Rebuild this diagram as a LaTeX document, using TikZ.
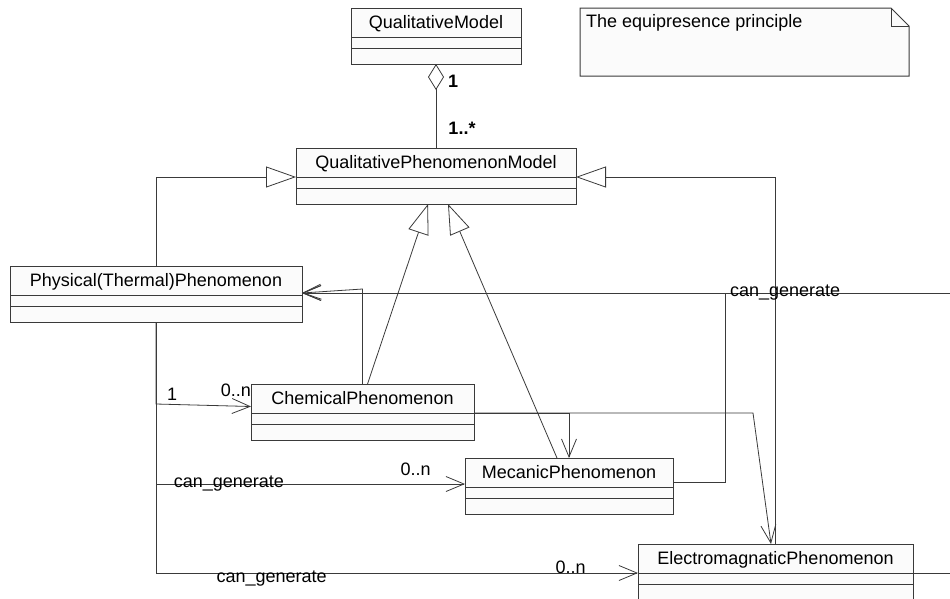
\documentclass[tikz,border=0pt]{standalone}
\usepackage{fontspec}
\setmainfont{Liberation Sans}
\usetikzlibrary{positioning,arrows.meta}
\definecolor{boxfill}{HTML}{FBFBFB}
\definecolor{linec}{HTML}{3A3A3A}
\tikzset{
	cls/.style={draw=linec, fill=boxfill, line width=1pt, inner sep=0pt, outer sep=0pt, minimum width=#1, minimum height=29pt, text height=12.5pt, text depth=0pt, font=\fontsize{18}{21}\selectfont},
	attr/.style={draw=linec, fill=boxfill, line width=1pt, inner sep=0pt, outer sep=0pt, minimum width=#1, minimum height=11pt},
	oper/.style={attr=#1, minimum height=16pt},
	lbl/.style={inner sep=0pt, font=\fontsize{18}{21}\selectfont},
	assoc/.style={draw=linec, line width=0.8pt, -{Straight Barb[length=18pt,width=15pt]}},
	gen/.style={draw=linec, line width=0.8pt, -{Triangle[length=30pt,width=21pt,fill=white]}},
	aggr/.style={draw=linec, line width=0.8pt, {Diamond[length=26pt,width=16pt,fill=white]}-},
}
\begin{document}
\begin{tikzpicture}[x=1pt, y=-1pt]
	\useasboundingbox (0,0) rectangle (950,598);
	\clip (0,0) rectangle (950,598);

	\node (qm) [cls=170pt, anchor=north west] at (351,8) {QualitativeModel};
	\node (qma) [attr=170pt, below=0pt of qm] {};
	\node (qmo) [oper=170pt, below=0pt of qma] {};

	\node (qpm) [cls=280pt, anchor=north west] at (296,148) {QualitativePhenomenonModel};
	\node (qpma) [attr=280pt, below=0pt of qpm] {};
	\node (qpmo) [oper=280pt, below=0pt of qpma] {};

	\node (phys) [cls=292pt, anchor=north west] at (10,266) {Physical(Thermal)Phenomenon};
	\node (physa) [attr=292pt, below=0pt of phys] {};
	\node (physo) [oper=292pt, below=0pt of physa] {};

	\node (chem) [cls=223pt, anchor=north west] at (251,384) {ChemicalPhenomenon};
	\node (chema) [attr=223pt, below=0pt of chem] {};
	\node (chemo) [oper=223pt, below=0pt of chema] {};

	\node (mec) [cls=208pt, anchor=north west] at (465,458) {MecanicPhenomenon};
	\node (meca) [attr=208pt, below=0pt of mec] {};
	\node (meco) [oper=208pt, below=0pt of meca] {};

	\node (em) [cls=275pt, anchor=north west] at (638,544) {ElectromagnaticPhenomenon};
	\node (ema) [attr=275pt, below=0pt of em] {};
	\node (emo) [oper=275pt, below=0pt of ema] {};

	\draw[draw=linec, fill=boxfill, line width=1pt] (580,8) -- (891,8) -- (909,26) -- (909,76) -- (580,76) -- cycle;
	\draw[linec, line width=1pt] (891,8) -- (891,26) -- (909,26);
	\node (note) [lbl, anchor=north west] at (586,14) {The equipresence principle};

	\draw[aggr] (qmo.south) -- (qpm.north)
		node[lbl, pos=0.21, xshift=17pt] {\bfseries 1}
		node[lbl, pos=0.76, xshift=26pt] {\bfseries 1..*};

	\draw[gen] (phys.north) |- (qpm.south west);
	\draw[gen] (em.north) |- (qpm.south east);
	\draw[gen] ([xshift=5pt]chem.north) -- ([xshift=-8pt]qpmo.south);
	\draw[gen] ([xshift=-12pt]mec.north) -- ([xshift=12pt]qpmo.south);

	\draw[assoc] (chem.south east) -| (mec.north);
	\draw[assoc] (chem.south east) -- ++(279,0) -- ([xshift=-4.5pt]em.north);
	\draw[assoc] (chem.north) -- ++(0,-95) -- ([yshift=2pt]phys.south east);
	\draw[assoc] ([yshift=5pt]mec.south east) -- ++(52,0) |- ([yshift=2pt]phys.south east);
	\draw[assoc] (em.south east) -- ++(60,0) |- ([yshift=2pt]phys.south east)
		node[lbl, pos=0.64] {can\_generate};

	\draw[assoc] (physo.south) -- ++(0,82) -- ([yshift=-8pt]chem.west)
		node[lbl, pos=0.17, yshift=10pt] {1}
		node[lbl, pos=0.84, yshift=16pt] {0..n};
	\draw[assoc] (physo.south) |- ([yshift=3pt]mec.south west)
		node[lbl, pos=0.618] {can\_generate}
		node[lbl, pos=0.92, yshift=15pt] {0..n};
	\draw[assoc] (physo.south) |- (em.south west)
		node[lbl, pos=0.62, yshift=-6pt] {can\_generate}
		node[lbl, pos=0.93, yshift=6pt] {0..n};
\end{tikzpicture}
\end{document}
